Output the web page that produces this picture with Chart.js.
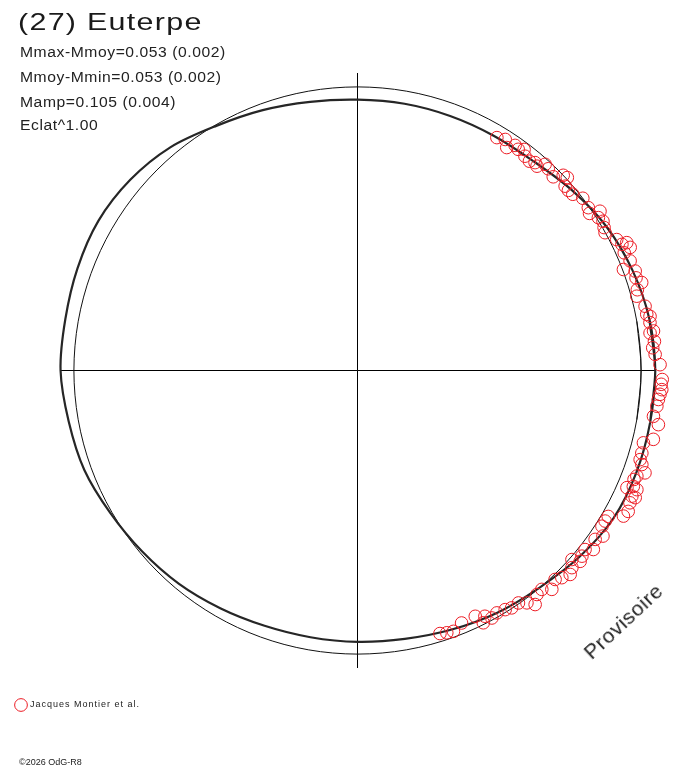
<!DOCTYPE html>
<html lang="fr">
<head>
  <meta charset="UTF-8" />
  <title>(27) Euterpe</title>
  <script src="https://cdn.jsdelivr.net/npm/chart.js"></script>
  <style>
    body {
      margin: 0;
      background: #fff;
      font-family: "Liberation Sans", Arial, sans-serif;
      color: #222;
    }
    .wrap {
      position: relative;
      width: 688px;
      height: 768px;
      overflow: hidden;
    }
    canvas {
      position: absolute;
      left: 0;
      top: 0;
    }
    .txt {
      position: absolute;
      white-space: nowrap;
      line-height: 1;
      transform-origin: 0 0;
    }
    #title {
      left: 18px;
      top: 10px;
      font-size: 24px;
      letter-spacing: 1px;
      transform: scaleX(1.27);
      color: #1a1a1a;
    }
    .info {
      left: 20px;
      font-size: 14px;
      letter-spacing: 0.5px;
      transform: scaleX(1.12);
    }
    #stamp {
      left: 623px;
      top: 621px;
      font-size: 21px;
      letter-spacing: 0.6px;
      transform-origin: 50% 50%;
      transform: translate(-50%, -50%) rotate(-43deg);
    }
    #copy {
      left: 19px;
      top: 758px;
      font-size: 9px;
    }
  </style>
</head>
<body>

<div class="wrap">
  <canvas id="lightCurve" width="688" height="768"></canvas>
  <div class="txt" id="title">(27) Euterpe</div>
  <div class="txt info" style="top:45px">Mmax-Mmoy=0.053 (0.002)</div>
  <div class="txt info" style="top:70px">Mmoy-Mmin=0.053 (0.002)</div>
  <div class="txt info" style="top:95px">Mamp=0.105 (0.004)</div>
  <div class="txt info" style="top:118px">Eclat^1.00</div>
  <div class="txt" id="stamp">Provisoire</div>
  <div class="txt" id="copy">©2026 OdG-R8</div>
</div>

<script>
  // rotation angle of the model curve, degrees counter-clockwise from +x
  const modelDeg = [0, 10, 20, 30, 40, 50, 60, 70, 80, 90, 100, 110,
                    120, 130, 140, 150, 160, 170, 180, 190, 200, 210, 220, 230,
                    240, 250, 260, 270, 280, 290, 300, 310, 320, 330, 340, 350];
  // relative brightness of the model (mean = 1)
  const modelFlux = [1.050, 1.045, 1.032, 1.014, 0.988, 0.964, 0.957, 0.955, 0.955, 0.955, 0.962, 0.977,
                     0.996, 1.027, 1.046, 1.055, 1.051, 1.046, 1.047, 1.034, 1.025, 1.006, 0.992, 0.981,
                     0.968, 0.958, 0.955, 0.957, 0.961, 0.972, 0.986, 0.999, 1.022, 1.042, 1.047, 1.048];
  const meanFlux = 1;

  // observations (Jacques Montier et al.)
  const obsDeg = [
    59.1, 57.4, 56.2, 55.0, 54.0, 53.0, 52.0, 50.6, 49.5, 48.7,
    47.7, 46.6, 44.7, 43.5, 42.6, 41.6, 40.5, 39.3, 37.4, 35.2,
    34.1, 33.3, 32.4, 31.3, 30.1, 29.1, 26.8, 25.5, 25.4, 24.3,
    23.8, 21.9, 20.8, 19.7, 18.4, 17.2, 16.1, 14.9, 12.6, 11.0,
    10.5, 9.3, 7.6, 7.3, 5.6, 4.4, 3.1, 1.1, -0.9, -1.7,
    -2.6, -3.6, -4.5, -5.5, -6.8, -8.8, -10.2, -13.1, -14.2, -16.2,
    -17.5, -18.3, -19.6, -20.7, -21.5, -22.8, -23.1, -23.5, -24.6, -24.6,
    -25.9, -27.5, -28.7, -30.2, -31.3, -32.5, -34.0, -35.4, -37.2, -38.2,
    -39.6, -40.6, -41.4, -42.6, -43.8, -45.4, -46.6, -48.4, -49.9, -51.3,
    -52.8, -53.9, -55.3, -57.0, -58.3, -60.1, -61.5, -62.6, -63.5, -64.4,
    -67.6, -69.8, -71.2, -72.6
  ];
  const obsFlux = [
    0.957, 0.967, 0.946, 0.969, 0.964, 0.976, 0.959, 0.955, 0.964, 0.959,
    0.983, 0.979, 0.971, 1.000, 1.005, 0.979, 0.978, 0.981, 1.000, 0.996,
    0.988, 1.023, 1.006, 1.013, 1.005, 0.999, 1.024, 1.033, 1.051, 1.055,
    1.028, 1.036, 1.003, 1.040, 1.035, 1.049, 1.027, 1.019, 1.039, 1.039,
    1.049, 1.045, 1.053, 1.040, 1.052, 1.044, 1.051, 1.067, 1.078, 1.075,
    1.072, 1.075, 1.070, 1.066, 1.063, 1.056, 1.078, 1.071, 1.040, 1.044,
    1.045, 1.056, 1.076, 1.053, 1.048, 1.055, 1.071, 1.036, 1.064, 1.077,
    1.068, 1.076, 1.069, 1.023, 1.022, 1.022, 1.044, 1.028, 1.044, 1.021,
    1.027, 1.034, 1.008, 1.027, 1.039, 1.026, 1.014, 1.032, 1.009, 1.012,
    1.036, 1.014, 0.997, 0.998, 0.991, 0.986, 0.993, 0.976, 0.994, 0.961,
    0.963, 0.980, 0.977, 0.972
  ];

  const axisMax = 1.049;

  function polar(deg, r) {
    const a = deg * Math.PI / 180;
    return { x: r * Math.cos(a), y: r * Math.sin(a) };
  }

  // closed loop: one extra point on each side of the seam so the spline closes smoothly
  function loop(fluxAt) {
    const n = modelDeg.length;
    const pts = [];
    for (let i = -1; i <= n + 1; i++) {
      const k = (i + n) % n;
      pts.push(polar(modelDeg[k] + 360 * Math.floor(i / n), fluxAt(k)));
    }
    return pts;
  }

  // spaced lettering like the original legend
  const spacedText = {
    id: 'spacedText',
    beforeDraw(chart) { chart.ctx.letterSpacing = '1px'; }
  };

  const onlyZero = axis => { axis.ticks = [{ value: 0 }]; };

  new Chart(document.getElementById('lightCurve'), {
    type: 'scatter',
    data: {
      datasets: [
        {
          label: 'Jacques Montier et al.',
          data: obsDeg.map((d, i) => polar(d, obsFlux[i])),
          pointRadius: 6.3,
          pointBorderWidth: 1,
          pointBorderColor: 'rgb(236,28,36)',
          pointBackgroundColor: 'rgba(255,255,255,0)',
          borderColor: 'rgb(236,28,36)',
          backgroundColor: 'rgba(255,255,255,0)',
          clip: false
        },
        {
          label: 'Modèle',
          data: loop(k => modelFlux[k]),
          showLine: true,
          pointRadius: 0,
          borderColor: '#262626',
          borderWidth: 2.2,
          tension: 0.33,
          clip: false
        },
        {
          label: 'Moyenne',
          data: loop(() => meanFlux),
          showLine: true,
          pointRadius: 0,
          borderColor: '#111',
          borderWidth: 1,
          tension: 0.33,
          clip: false
        }
      ]
    },
    options: {
      responsive: false,
      animation: false,
      layout: { padding: { left: 0, right: 33, top: 73, bottom: 48.5 } },
      scales: {
        x: {
          type: 'linear',
          min: -axisMax,
          max: axisMax,
          afterBuildTicks: onlyZero,
          afterFit: axis => { axis.height = 16; },
          ticks: { display: false },
          border: { display: false },
          grid: { color: '#000', lineWidth: 1, drawTicks: false }
        },
        y: {
          type: 'linear',
          min: -axisMax,
          max: axisMax,
          afterBuildTicks: onlyZero,
          afterFit: axis => { axis.width = 60; },
          ticks: { display: false },
          border: { display: false },
          grid: { color: '#000', lineWidth: 1, drawTicks: false }
        }
      },
      plugins: {
        tooltip: { enabled: false },
        legend: {
          position: 'bottom',
          align: 'start',
          labels: {
            usePointStyle: true,
            pointStyle: 'circle',
            padding: 16.5,
            color: '#222',
            font: { family: '"Liberation Sans", Arial, sans-serif', size: 9 },
            filter: item => item.datasetIndex === 0
          }
        }
      }
    },
    plugins: [spacedText]
  });
</script>

</body>
</html>
